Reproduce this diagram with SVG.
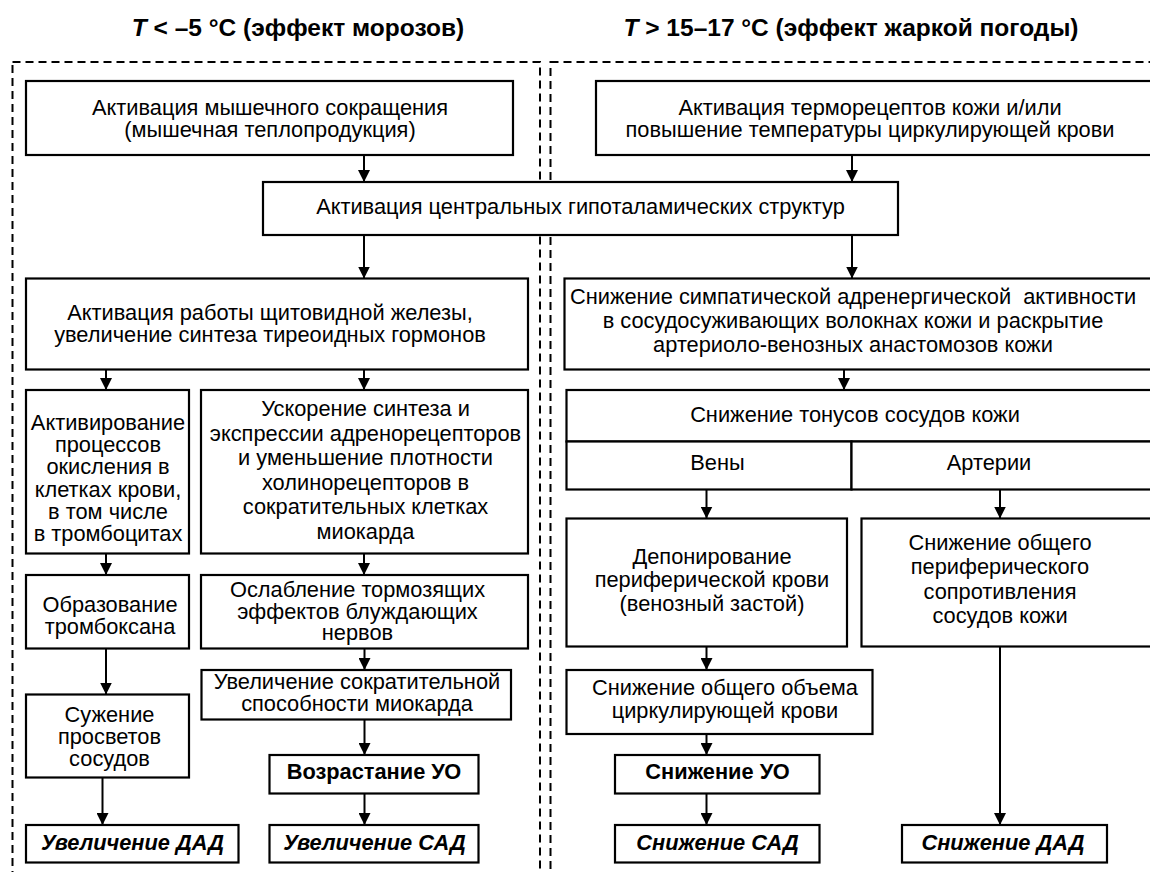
<svg xmlns="http://www.w3.org/2000/svg" width="1150" height="872" viewBox="0 0 1150 872">
<style>
.frame{fill:none;stroke:#000;stroke-width:2;stroke-dasharray:8 5}
.box{fill:#fff;stroke:#000;stroke-width:2.2}
.t{font-family:"Liberation Sans",Arial,sans-serif;font-size:21.8px;text-anchor:middle;fill:#000;white-space:pre}
.b{font-weight:bold}
.bi{font-weight:bold;font-style:italic}
.hd{font-family:"Liberation Sans",Arial,sans-serif;font-size:24.5px;font-weight:bold;text-anchor:middle;fill:#000}
.conn line{stroke:#000;stroke-width:2}
</style>
<defs>
<marker id="arr" markerUnits="userSpaceOnUse" markerWidth="12" markerHeight="12" refX="12" refY="6" orient="auto">
<path d="M0,0 L12,6 L0,12 Z" fill="#000"/>
</marker>
</defs>
<rect width="1150" height="872" fill="#fff"/>
<g id="headers">
<text class="hd" x="298" y="36"><tspan font-style="italic">T</tspan> &lt; –5 °C (эффект морозов)</text>
<text class="hd" x="851" y="36"><tspan font-style="italic">T</tspan> &gt; 15–17 °C (эффект жаркой погоды)</text>
</g>
<g id="frames">
<rect class="frame" x="12.5" y="62" width="527.5" height="830"/>
<rect class="frame" x="550.5" y="62" width="620" height="830"/>
</g>
<g id="connectors" class="conn">
<line x1="364" y1="155" x2="364" y2="182" marker-end="url(#arr)"/>
<line x1="852" y1="155" x2="852" y2="182" marker-end="url(#arr)"/>
<line x1="364" y1="235" x2="364" y2="278.5" marker-end="url(#arr)"/>
<line x1="852" y1="235" x2="852" y2="278.5" marker-end="url(#arr)"/>
<line x1="106" y1="369.5" x2="106" y2="390" marker-end="url(#arr)"/>
<line x1="364" y1="369.5" x2="364" y2="390" marker-end="url(#arr)"/>
<line x1="844" y1="369.5" x2="844" y2="390" marker-end="url(#arr)"/>
<line x1="106" y1="553.5" x2="106" y2="575" marker-end="url(#arr)"/>
<line x1="364" y1="553.5" x2="364" y2="575" marker-end="url(#arr)"/>
<line x1="106" y1="648.5" x2="106" y2="694.5" marker-end="url(#arr)"/>
<line x1="364.5" y1="648.5" x2="364.5" y2="670" marker-end="url(#arr)"/>
<line x1="364.5" y1="719.5" x2="364.5" y2="755" marker-end="url(#arr)"/>
<line x1="364.5" y1="793.5" x2="364.5" y2="825" marker-end="url(#arr)"/>
<line x1="102.5" y1="777.5" x2="102.5" y2="825" marker-end="url(#arr)"/>
<line x1="706.5" y1="489.5" x2="706.5" y2="518.5" marker-end="url(#arr)"/>
<line x1="1000" y1="489.5" x2="1000" y2="518.5" marker-end="url(#arr)"/>
<line x1="706.5" y1="646.5" x2="706.5" y2="670" marker-end="url(#arr)"/>
<line x1="706.5" y1="734" x2="706.5" y2="755" marker-end="url(#arr)"/>
<line x1="706.5" y1="793.5" x2="706.5" y2="825" marker-end="url(#arr)"/>
<line x1="1000" y1="646.5" x2="1000" y2="825" marker-end="url(#arr)"/>
</g>
<g id="n-muscle">
<rect class="box" x="26" y="81" width="487" height="74"/>
<text class="t"><tspan x="270" y="115">Активация мышечного сокращения</tspan><tspan x="270" y="137">(мышечная теплопродукция)</tspan></text>
</g>
<g id="n-thermo">
<rect class="box" x="596" y="81" width="570" height="74"/>
<text class="t"><tspan x="870" y="115">Активация терморецептов кожи и/или</tspan><tspan x="870" y="137">повышение температуры циркулирующей крови</tspan></text>
</g>
<g id="n-central">
<rect class="box" x="263" y="182" width="635" height="53"/>
<text class="t" x="580.5" y="214">Активация центральных гипоталамических структур</text>
</g>
<g id="n-thyroid">
<rect class="box" x="26" y="278.5" width="502" height="91"/>
<text class="t"><tspan x="270" y="320">Активация работы щитовидной железы,</tspan><tspan x="270" y="342">увеличение синтеза тиреоидных гормонов</tspan></text>
</g>
<g id="n-symp">
<rect class="box" x="564.5" y="278.5" width="600" height="91"/>
<text class="t"><tspan x="853" y="304">Снижение симпатической адренергической  активности</tspan><tspan x="853" y="328">в сосудосуживающих волокнах кожи и раскрытие</tspan><tspan x="853" y="352">артериоло-венозных анастомозов кожи</tspan></text>
</g>
<g id="n-oxid">
<rect class="box" x="26" y="390" width="163" height="163.5"/>
<text class="t"><tspan x="108" y="429.5">Активирование</tspan><tspan x="108" y="452">процессов</tspan><tspan x="108" y="474">окисления в</tspan><tspan x="108" y="496.5">клетках крови,</tspan><tspan x="108" y="518.5">в том числе</tspan><tspan x="108" y="541">в тромбоцитах</tspan></text>
</g>
<g id="n-adren">
<rect class="box" x="201" y="390" width="327" height="163.5"/>
<text class="t"><tspan x="365.5" y="416">Ускорение синтеза и</tspan><tspan x="365.5" y="440.5">экспрессии адренорецепторов</tspan><tspan x="365.5" y="465">и уменьшение плотности</tspan><tspan x="365.5" y="489.5">холинорецепторов в</tspan><tspan x="365.5" y="514">сократительных клетках</tspan><tspan x="365.5" y="538.5">миокарда</tspan></text>
</g>
<g id="n-thromboxane">
<rect class="box" x="26" y="575" width="163" height="73.5"/>
<text class="t"><tspan x="110" y="611.5">Образование</tspan><tspan x="110" y="633.5">тромбоксана</tspan></text>
</g>
<g id="n-vagus">
<rect class="box" x="201" y="575" width="327" height="73.5"/>
<text class="t"><tspan x="357.5" y="597">Ослабление тормозящих</tspan><tspan x="357.5" y="618.5">эффектов блуждающих</tspan><tspan x="357.5" y="640">нервов</tspan></text>
</g>
<g id="n-contract">
<rect class="box" x="201.5" y="670" width="309.5" height="49.5"/>
<text class="t"><tspan x="357" y="688.5">Увеличение сократительной</tspan><tspan x="357" y="711">способности миокарда</tspan></text>
</g>
<g id="n-uo-up">
<rect class="box" x="269.5" y="755" width="209" height="38.5"/>
<text class="t b" x="374" y="778.5">Возрастание УО</text>
</g>
<g id="n-sad-up">
<rect class="box" x="269.5" y="825" width="209" height="37.5"/>
<text class="t bi" x="374.5" y="849.5">Увеличение САД</text>
</g>
<g id="n-narrow">
<rect class="box" x="26" y="694.5" width="163" height="83"/>
<text class="t"><tspan x="109.5" y="721.5">Сужение</tspan><tspan x="109.5" y="744">просветов</tspan><tspan x="109.5" y="766">сосудов</tspan></text>
</g>
<g id="n-dad-up">
<rect class="box" x="26" y="825" width="212.5" height="37.5"/>
<text class="t bi" x="132.5" y="849.5">Увеличение ДАД</text>
</g>
<g id="n-tonus">
<rect class="box" x="566.5" y="390" width="600" height="51.5"/>
<text class="t" x="855" y="422">Снижение тонусов сосудов кожи</text>
</g>
<g id="n-veins">
<rect class="box" x="566.5" y="441.5" width="285" height="48"/>
<text class="t" x="717.5" y="470">Вены</text>
</g>
<g id="n-arteries">
<rect class="box" x="851.5" y="441.5" width="315" height="48"/>
<text class="t" x="989" y="470">Артерии</text>
</g>
<g id="n-deposit">
<rect class="box" x="566.5" y="518.5" width="280.5" height="128"/>
<text class="t"><tspan x="712" y="564">Депонирование</tspan><tspan x="712" y="587">периферической крови</tspan><tspan x="712" y="610.5">(венозный застой)</tspan></text>
</g>
<g id="n-resist">
<rect class="box" x="861.5" y="518.5" width="305" height="128"/>
<text class="t"><tspan x="1000" y="550">Снижение общего</tspan><tspan x="1000" y="574">периферического</tspan><tspan x="1000" y="598.5">сопротивления</tspan><tspan x="1000" y="623">сосудов кожи</tspan></text>
</g>
<g id="n-volume">
<rect class="box" x="566.5" y="670" width="306" height="64"/>
<text class="t"><tspan x="725" y="695">Снижение общего объема</tspan><tspan x="725" y="717.5">циркулирующей крови</tspan></text>
</g>
<g id="n-uo-down">
<rect class="box" x="615" y="755" width="204.5" height="38.5"/>
<text class="t b" x="717.5" y="778.5">Снижение УО</text>
</g>
<g id="n-sad-down">
<rect class="box" x="615" y="825" width="204.5" height="37.5"/>
<text class="t bi" x="717.5" y="849.5">Снижение САД</text>
</g>
<g id="n-dad-down">
<rect class="box" x="902" y="825" width="205" height="37.5"/>
<text class="t bi" x="1003" y="849.5">Снижение ДАД</text>
</g>
</svg>
